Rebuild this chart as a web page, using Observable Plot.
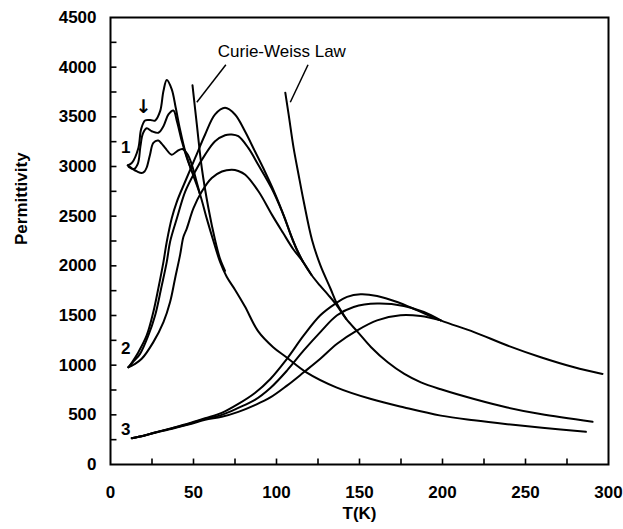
<!DOCTYPE html>
<html>
<head>
<meta charset="utf-8">
<script src="https://cdn.jsdelivr.net/npm/d3@7"></script>
<script src="https://cdn.jsdelivr.net/npm/@observablehq/plot@0.6"></script>
<style>
  html, body { margin: 0; padding: 0; background: #fff; }
  svg { font-family: "Liberation Sans", Arial, sans-serif; }
</style>
</head>
<body>
<div id="chart"></div>
<script>
// ---- tick values ----
const xMajorTicks = [0, 50, 100, 150, 200, 250, 300];
const xMinorTicks = [25, 50, 75, 100, 125, 150, 175, 200, 225, 250, 275];
const yMajorTicks = [0, 500, 1000, 1500, 2000, 2500, 3000, 3500, 4000, 4500];
const yMinorTicks = [250, 500, 750, 1000, 1250, 1500, 1750, 2000, 2250, 2500, 2750, 3000, 3250, 3500, 3750, 4000, 4250];

// ---- group 1 curves [T (K), permittivity] ----
const curve1a = [[10.4,3011],[13,3040],[16.8,3187],[18.4,3372],[20.8,3463],[24,3468],[26.9,3463],[29.9,3557],[31.9,3760],[33.9,3871],[36.9,3777],[39.3,3591],[41.9,3372],[45,3153],[49,2950],[54,2715],[58,2475],[62,2250],[66,2040],[70,1890],[75,1760],[81,1590],[89,1340],[98,1181],[106,1080],[118,928],[136,777],[157,659],[177,574],[199,492],[219,445],[239,406],[260,370],[286.4,329]];
const curve1b = [[11,2995],[14,2975],[16.5,3030],[18,3200],[19.5,3330],[21.8,3385],[24.9,3355],[28.8,3340],[31.9,3406],[34.9,3524],[37.9,3564],[40,3456],[43,3254],[46,3086],[49,2950]];
const curve1c = [[10.4,3011],[13,2980],[16,2950],[18.8,2934],[20.5,2950],[21.8,2990],[23.8,3119],[25.8,3237],[28.8,3261],[30.8,3230],[32.9,3187],[36.9,3119],[40,3153],[43.3,3177],[46.6,3119],[49,3018],[51.5,2870],[54,2715]];

// ---- group 2 curves ----
const curve2a = [[10.8,979],[13,1030],[16.8,1131],[21.8,1299],[25.8,1535],[28.8,1772],[31.9,2040],[33.9,2243],[36.9,2479],[40,2647],[45,2849],[51,3086],[57,3322],[63,3524],[69,3591],[75,3524],[81,3355],[87,3153],[93,2950],[99,2730],[105,2480],[110,2250],[116,2040],[121,1910],[126,1805],[131,1710],[136,1610],[142,1465],[149,1333],[157,1181],[167,1029],[177,912],[187,827],[199,757],[219,659],[239,574],[259,508],[290.4,430]];
const curve2b = [[10.8,979],[14,1040],[17.8,1114],[22.8,1299],[26.9,1502],[30.5,1772],[33.9,2040],[35.9,2243],[40,2479],[45,2748],[51,2950],[57,3119],[63,3254],[69,3315],[73,3322],[77,3305],[83,3187],[89,3018],[97,2783],[103,2560],[108,2340],[112,2170],[116,2040]];
const curve2c = [[10.8,979],[14.5,1010],[18.8,1064],[25.8,1232],[31.9,1434],[35.9,1636],[38.9,1873],[41.9,2108],[43.9,2290],[46,2378],[50,2580],[55,2748],[61,2884],[67.1,2950],[73.1,2968],[77,2955],[81.2,2917],[89.2,2748],[97.3,2513],[104,2330],[110,2170],[116,2040],[121,1910]];

// ---- group 3 curves ----
const curve3a = [[12.8,265],[20,290],[26.9,322],[35,358],[47,412],[57,465],[67,520],[77,610],[87,720],[96.3,861],[106.3,1064],[116.4,1299],[126.4,1502],[135.5,1620],[142.5,1687],[150.6,1714],[160.6,1697],[172.7,1636],[184.8,1552],[198.9,1451],[219,1333],[239.1,1198],[259.2,1080],[279.3,979],[296.4,912]];
const curve3b = [[12.8,265],[20,290],[26.9,322],[35,356],[47,408],[57,458],[67,500],[77,570],[87,650],[96.3,770],[106.3,945],[116.4,1148],[126.4,1333],[136.5,1502],[146.5,1586],[160.6,1620],[176.7,1596],[188.8,1535],[198.9,1451]];
const curve3c = [[12.8,265],[20,290],[26.9,320],[35,352],[47,402],[57,450],[67,480],[77,530],[87,598],[96.3,675],[106.3,794],[116.4,928],[126.4,1064],[136.5,1215],[148.6,1350],[160.6,1451],[174.7,1502],[186.8,1494],[198.9,1451]];

// ---- Curie-Weiss fits ----
const curveCW1 = [[49.4,3817],[52,3423],[55,2985],[59,2580],[63,2260],[66,2070],[69,1950]];
const curveCW2 = [[105.3,3743],[107.3,3524],[110.3,3187],[113.3,2917],[116.4,2647],[121.4,2260],[126.4,2007],[132.5,1772],[136.5,1615],[142,1465]];

// ---- annotations ----
const groupLabels = [{text: "1", T: 9.2, P: 3187}, {text: "2", T: 9.2, P: 1165}, {text: "3", T: 9.2, P: 356}];
const cwLabel = [{text: "Curie-Weiss Law", T: 103.2, P: 4158}];
const cwLeaders = [{T1: 69.5, P1: 4024, T2: 52, P2: 3647}, {T1: 119, P1: 4024, T2: 108.3, P2: 3647}];
const arrowMark = [{text: "↓", T: 19.8, P: 3600}];

const series = {curve1a, curve1b, curve1c, curve2a, curve2b, curve2c, curve3a, curve3b, curve3c, curveCW1, curveCW2};
const rows = Object.entries(series).flatMap(([id, pts]) => pts.map(([T, P]) => ({id, T, P})));

// inward tick marks (length expressed in data units of the other axis)
const xTickRows = xMinorTicks.map(t => ({a: t, b: t, c: 0, d: 60}));
const yTickRows = yMinorTicks.map(t => ({a: 0, b: 3.6, c: t, d: t}));

const chart = Plot.plot({
  width: 623,
  height: 529,
  marginLeft: 110,
  marginRight: 15,
  marginTop: 17,
  marginBottom: 65,
  style: {fontFamily: "'Liberation Sans', Arial, sans-serif", fontSize: "17px", fontWeight: "bold", color: "black", background: "white"},
  x: {type: "linear", domain: [0, 300], ticks: xMajorTicks, tickFormat: d => String(d), tickSize: 0, tickPadding: 21, label: null},
  y: {type: "linear", domain: [0, 4500], ticks: yMajorTicks, tickFormat: d => String(d), tickSize: 0, tickPadding: 14, label: null},
  marks: [
    Plot.link(xTickRows, {x1: "a", x2: "b", y1: "c", y2: "d", stroke: "black", strokeWidth: 1.6}),
    Plot.link(yTickRows, {x1: "a", x2: "b", y1: "c", y2: "d", stroke: "black", strokeWidth: 1.6}),
    Plot.line(rows, {x: "T", y: "P", z: "id", curve: "catmull-rom", stroke: "black", strokeWidth: 2}),
    Plot.link(cwLeaders, {x1: "T1", y1: "P1", x2: "T2", y2: "P2", stroke: "black", strokeWidth: 1.5}),
    Plot.text(cwLabel, {x: "T", y: "P", text: "text", fontSize: 17, fontWeight: "normal", fill: "black"}),
    Plot.text(groupLabels, {x: "T", y: "P", text: "text", fontSize: 17, fill: "black"}),
    Plot.text(arrowMark, {x: "T", y: "P", text: "text", fontSize: 19, fill: "black", fontFamily: "DejaVu Sans"}),
    Plot.text(["T(K)"], {frameAnchor: "bottom", dy: 54, text: d => d, fontSize: 17, fill: "black"}),
    Plot.text(["Permittivity"], {frameAnchor: "left", rotate: -90, dx: -89, dy: 4, text: d => d, fontSize: 17, fill: "black"}),
    Plot.frame({stroke: "black", strokeWidth: 2})
  ]
});
document.getElementById("chart").appendChild(chart);
</script>
</body>
</html>
